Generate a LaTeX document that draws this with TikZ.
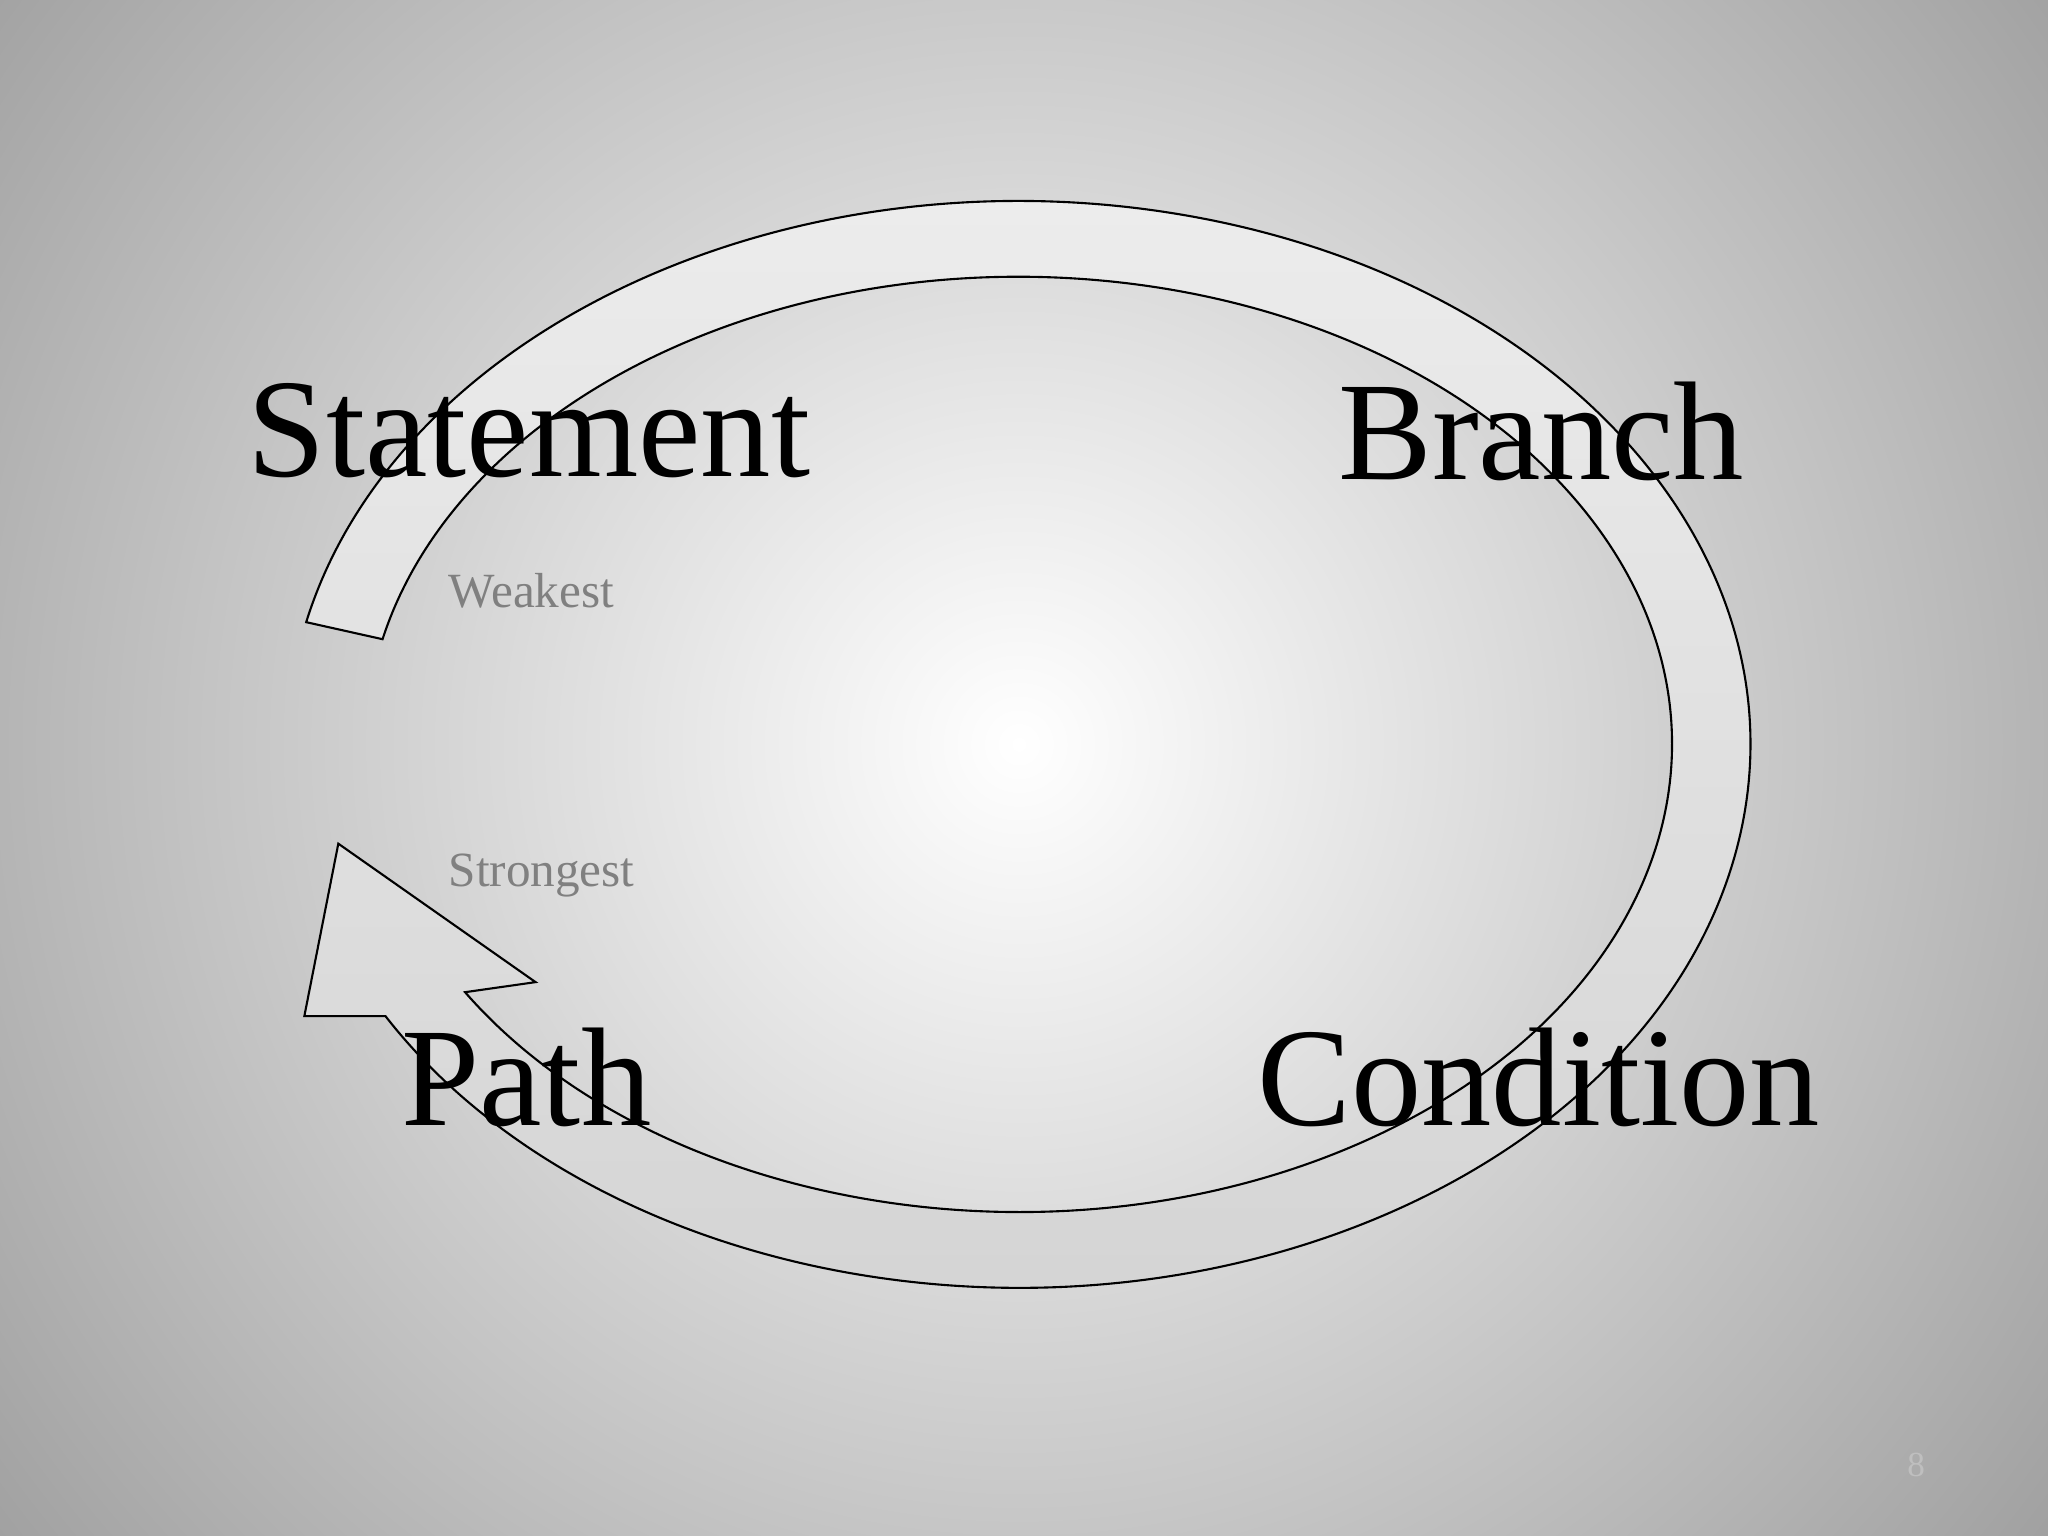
\documentclass[tikz,border=0pt]{standalone}
\usepackage{fontspec}
\usetikzlibrary{calc}
\setmainfont{Liberation Serif}
\begin{document}
\begin{tikzpicture}[scale=1.306,
  big/.style={font=\fontsize{40}{44}\selectfont, text=black},
  small/.style={font=\fontsize{14}{16}\selectfont, text=black!50, anchor=west}]
\useasboundingbox (0,0) rectangle (15.68,11.76);
\coordinate (c) at (7.80,6.06);
\begin{scope}
\clip (0,0) rectangle (15.68,11.76);
\fill[black!38] (0,0) rectangle (15.68,11.76);
\shade[inner color=white, outer color=black!38] (c) circle (10.2);
\end{scope}
\coordinate (b1) at (2.33,3.98);
\coordinate (tip) at (2.59,5.30);
\coordinate (b2) at (4.10,4.24);
\shade[top color=black!7, bottom color=black!17, draw=black, line width=0.6pt]
  ($(c)+(167:5.6 and 4.16)$) arc[start angle=167, end angle=-150, x radius=5.6, y radius=4.16]
  -- (b1) -- (tip) -- (b2)
  -- ($(c)+(-148:5 and 3.58)$) arc[start angle=-148, end angle=167, x radius=5, y radius=3.58]
  -- cycle;
\node[big] (st) at (4.05,8.46) {Statement};
\node[big] (br) at (11.80,8.46) {Branch};
\node[big] (pa) at (4.03,3.51) {Path};
\node[big] (co) at (11.78,3.51) {Condition};
\node[small] (we) at (3.34,7.24) {Weakest};
\node[small] (sg) at (3.34,5.06) {Strongest};
\node[font=\fontsize{10}{12}\selectfont, text=black!25] (pg) at (14.67,0.54) {8};
\end{tikzpicture}
\end{document}
